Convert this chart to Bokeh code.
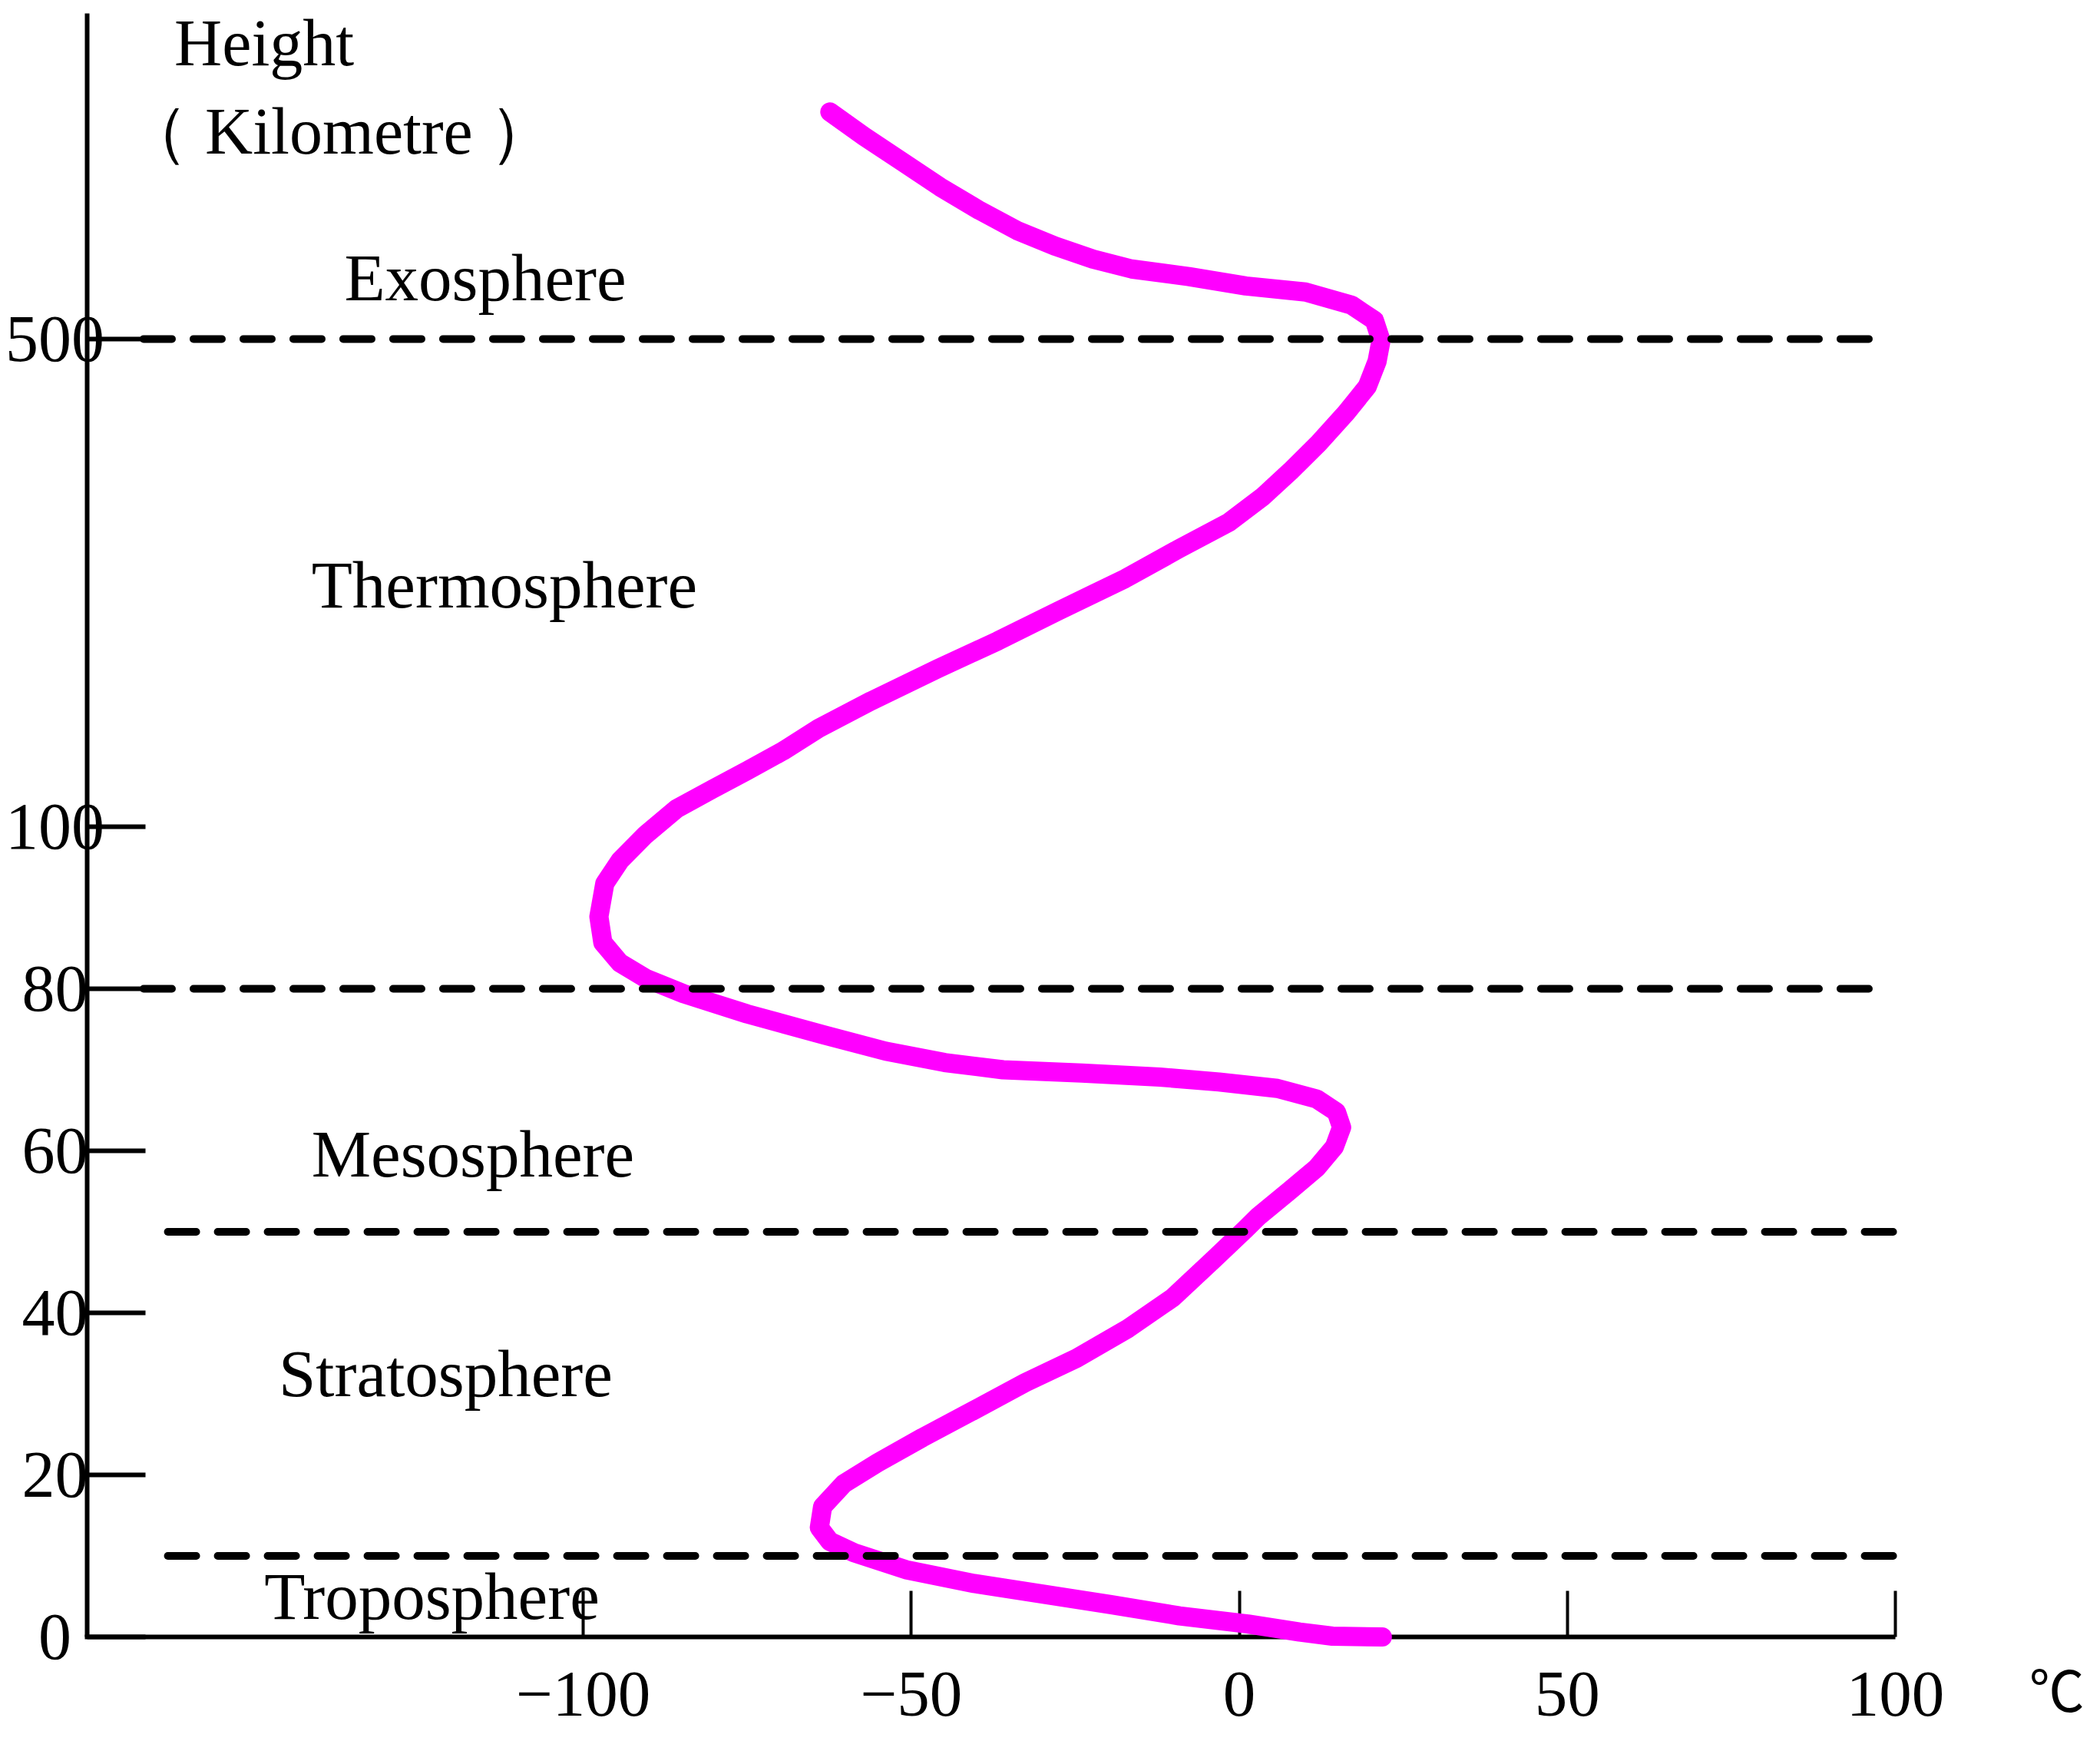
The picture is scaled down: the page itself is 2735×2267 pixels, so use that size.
import numpy as np
from bokeh.plotting import figure
from bokeh.models import Range1d, LinearAxis, FixedTicker
from bokeh.core.properties import value
from bokeh.embed import file_html
from bokeh.resources import INLINE

# ---------------- data ----------------
temp_c = [21.8, 14.2, 9.2, 1.3, -9.1, -19.6, -30.0, -40.4, -50.8, -58.7,
          -62.4, -64.0, -63.5, -60.3, -55.1, -48.3, -40.4, -32.6, -24.8, -16.9,
          -10.1, -3.9, 0.9, 2.9, 7.7, 11.8, 14.5, 15.6, 14.8, 11.8,
          5.8, -3.1, -12.1, -24.0, -36.0, -44.9, -53.9, -63.3, -75.0, -84.7,
          -90.5, -94.4, -97.0, -97.6, -96.7, -94.4, -90.5, -85.8, -80.3, -75.0,
          -69.5, -64.1, -56.1, -45.9, -36.8, -27.6, -17.4, -9.2, -1.6,
          3.5, 7.8, 12.1, 16.3, 19.5, 21.0, 21.6, 20.6, 17.1, 10.1,
          1.0, -7.7, -16.4, -22.3, -28.1, -33.9, -39.7, -45.6, -51.4, -57.2,
          -62.4]
height_km = [0, 0.1, 0.6, 1.6, 2.6, 4.0, 5.3, 6.6, 8.3, 10.4,
             11.8, 13.5, 16.1, 18.9, 21.5, 24.6, 28.0, 31.4, 34.4, 38.1,
             41.9, 46.6, 50.3, 51.9, 55.1, 57.9, 60.5, 62.9, 64.8, 66.4,
             67.7, 68.5, 69.1, 69.6, 70.0, 70.9, 72.3, 74.3, 76.9, 79.4,
             81.3, 83.2, 85.7, 88.9, 93.0, 95.8, 99.0, 114.6, 130.8, 146.0,
             162.3, 180.7, 203.2, 229.7, 252.4, 276.9, 303.5, 327.9, 349.6,
             370.3, 391.6, 414.5, 439.6, 460.9, 481.6, 498.7, 515.2, 527.8, 538.5,
             543.5, 551.2, 557.4, 565.5, 576.2, 589.0, 605.8, 624.7, 645.5, 666.2,
             686.2]

x_ticks = [-100, -50, 0, 50, 100]
x_tick_labels = ["\u2212100", "\u221250", "0", "50", "100"]
y_ticks_km = [0, 20, 40, 60, 80, 100, 500]
y_tick_labels = ["0", "20", "40", "60", "80", "100", "500"]

boundary_km = [10, 50, 80, 500]
layer_names = ["Troposphere", "Stratosphere", "Mesosphere", "Thermosphere", "Exosphere"]
axis_title = ["Height", "\uff08 Kilometre \uff09"]
unit_label = "\u2103"

# ---------------- scale: linear to 100 km, compressed above ----------------
BREAK_KM = 100.0
UPPER_RATE = 60.2 / 400.0


def disp(h):
    h = np.asarray(h, dtype=float)
    return np.where(h <= BREAK_KM, h, BREAK_KM + (h - BREAK_KM) * UPPER_RATE)


# ---------------- layout (positions, not data) ----------------
W, H = 2719, 2251
Y_AXIS_X = -175.6
Y_AXIS_TOP = 200.4
YLAB_X = -180.5
boundary_start = [-163.3, -163.3, -167.0, -167.0]
boundary_end = [100.7, 100.7, 98.0, 98.0]
layer_x = [-148.6, -146.4, -141.4, -141.4, -136.4]
layer_y = [5.0, 32.5, 59.6, 129.9, 167.8]
title_x = [-162.3, -170.2]
title_y = [196.7, 185.8]
FONT = value("Liberation Serif")

p = figure(width=W, height=H,
           x_range=Range1d(-188.82, 129.37), y_range=Range1d(-11.37, 201.99),
           x_axis_type=None, y_axis_type=None,
           toolbar_location=None, output_backend="svg",
           min_border=0, min_border_left=0, min_border_right=0,
           min_border_top=0, min_border_bottom=0)
p.outline_line_color = None
p.background_fill_color = "white"
p.border_fill_color = "white"

# axes
xaxis = LinearAxis(fixed_location=0, ticker=FixedTicker(ticks=x_ticks),
                   bounds=(Y_AXIS_X - 0.35, 100))
xaxis.major_label_overrides = dict(zip(x_ticks, x_tick_labels))
xaxis.axis_line_width = 6
xaxis.axis_line_color = "black"
xaxis.major_tick_in = 60
xaxis.major_tick_out = 0
xaxis.major_tick_line_width = 4
xaxis.major_tick_line_color = "black"
xaxis.minor_tick_line_color = None
xaxis.major_label_standoff = 46
xaxis.major_label_text_font = "Liberation Serif"
xaxis.major_label_text_font_size = "85px"
xaxis.major_label_text_color = "black"
xaxis.level = "underlay"
p.add_layout(xaxis, "below")

yaxis = LinearAxis(fixed_location=Y_AXIS_X,
                   ticker=FixedTicker(ticks=[float(v) for v in disp(y_ticks_km)]),
                   bounds=(0, Y_AXIS_TOP))
yaxis.axis_line_width = 6
yaxis.axis_line_color = "black"
yaxis.major_tick_in = 76
yaxis.major_tick_out = 0
yaxis.major_tick_line_width = 6
yaxis.major_tick_line_color = "black"
yaxis.minor_tick_line_color = None
yaxis.major_label_text_font_size = "0px"
yaxis.major_label_text_color = None
yaxis.level = "underlay"
p.add_layout(yaxis, "left")

# temperature profile
p.line(temp_c, disp(height_km), line_color="#FF00FF", line_width=25,
       line_cap="round", line_join="round")

# layer boundaries
by = disp(boundary_km)
p.segment(x0=boundary_start, y0=by, x1=boundary_end, y1=by,
          line_color="black", line_width=10, line_dash="37 28", line_cap="round")

# y tick labels
p.text(x=[YLAB_X] * len(y_tick_labels), y=disp(y_ticks_km), text=y_tick_labels,
       text_align="center", text_baseline="middle", text_font=FONT,
       text_font_size=value("86px"), text_color="black")

# layer names
p.text(x=layer_x, y=layer_y, text=layer_names, text_align="left",
       text_baseline="middle", text_font=FONT,
       text_font_size=value("87px"), text_color="black")

# axis titles
p.text(x=title_x, y=title_y, text=axis_title,
       text_align="left", text_baseline="middle", text_font=FONT,
       text_font_size=value("86px"), text_color="black")
p.text(x=[124.6], y=[-6.2], text=[unit_label], text_align="center",
       text_baseline="middle", text_font=value("Noto Sans CJK SC"),
       text_font_size=value("72px"), text_color="black")

open("out.html", "w").write(file_html(p, INLINE))
